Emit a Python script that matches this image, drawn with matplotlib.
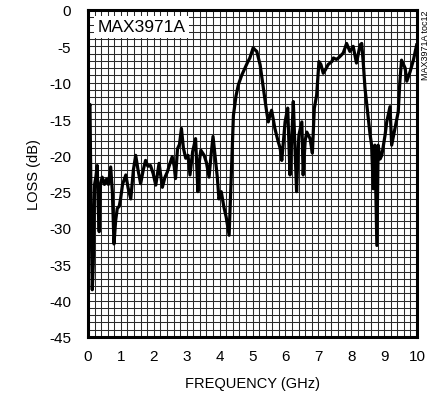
import matplotlib
matplotlib.use("Agg")
import matplotlib.pyplot as plt
import numpy as np

freq_ghz = [0.02, 0.06, 0.10, 0.13, 0.16, 0.20, 0.24, 0.28, 0.31, 0.34, 0.38, 0.43, 0.50, 0.56, 0.62,
            0.69, 0.74, 0.79, 0.84, 0.89, 0.95, 0.99, 1.05, 1.15, 1.22, 1.30, 1.38, 1.45, 1.52, 1.60,
            1.68, 1.75, 1.82, 1.90, 1.98, 2.06, 2.16, 2.26, 2.34, 2.41, 2.50, 2.56, 2.62, 2.66, 2.72,
            2.78, 2.84, 2.90, 2.97, 3.04, 3.10, 3.18, 3.27, 3.34, 3.38, 3.43, 3.53, 3.60, 3.68, 3.74,
            3.80, 3.88, 3.93, 3.98, 4.05, 4.13, 4.20, 4.29, 4.33, 4.37, 4.42, 4.50, 4.57, 4.67, 4.77,
            4.85, 4.92, 5.02, 5.08, 5.13, 5.23, 5.33, 5.43, 5.48, 5.53, 5.58, 5.63, 5.68, 5.78, 5.84,
            5.89, 5.94, 5.99, 6.07, 6.14, 6.19, 6.24, 6.30, 6.34, 6.38, 6.41, 6.50, 6.54, 6.60, 6.65,
            6.75, 6.82, 6.88, 6.95, 7.02, 7.08, 7.15, 7.22, 7.30, 7.41, 7.46, 7.55, 7.61, 7.68, 7.76,
            7.86, 7.96, 8.06, 8.16, 8.27, 8.32, 8.37, 8.42, 8.52, 8.57, 8.62, 8.67, 8.72, 8.78, 8.82,
            8.88, 8.93, 9.03, 9.08, 9.18, 9.23, 9.33, 9.43, 9.48, 9.53, 9.64, 9.69, 9.79, 9.89, 9.99]
loss_db = [-13.5, -13.0, -30.0, -38.5, -35.0, -24.0, -23.0, -21.4, -27.0, -30.5, -24.0, -23.0, -24.0, -23.3, -24.0,
           -21.6, -25.0, -32.2, -29.0, -27.3, -27.0, -26.0, -24.0, -22.7, -24.5, -26.0, -22.0, -20.0, -22.0, -23.9,
           -22.0, -20.7, -21.5, -21.4, -22.5, -24.1, -21.1, -24.4, -23.0, -22.3, -21.0, -20.2, -21.5, -23.2, -19.1,
           -18.5, -16.3, -19.0, -20.4, -20.0, -22.7, -19.5, -17.7, -25.0, -21.0, -19.3, -20.0, -21.0, -23.0, -20.0,
           -17.4, -20.9, -23.0, -26.0, -25.0, -27.1, -28.5, -31.0, -26.0, -21.0, -14.5, -11.8, -10.3, -9.0, -8.0,
           -7.2, -6.6, -5.2, -5.5, -5.7, -7.5, -10.8, -14.0, -15.4, -14.5, -13.8, -15.0, -16.3, -18.1, -19.0,
           -20.7, -18.0, -15.4, -13.5, -22.7, -18.0, -12.6, -20.0, -25.0, -20.0, -17.2, -15.4, -22.7, -18.0, -16.8,
           -17.7, -19.7, -13.5, -11.7, -7.1, -7.5, -8.7, -8.2, -7.5, -7.1, -6.6, -6.8, -6.6, -6.3, -5.9,
           -4.6, -5.7, -5.0, -7.3, -4.8, -4.6, -7.5, -10.8, -14.9, -17.0, -18.6, -24.6, -18.6, -32.4, -18.6,
           -20.5, -20.0, -17.2, -15.4, -13.3, -18.6, -16.3, -14.0, -9.8, -6.9, -8.0, -9.8, -8.5, -6.9, -4.8]

x_ticks = [0, 1, 2, 3, 4, 5, 6, 7, 8, 9, 10]
y_ticks = [0, -5, -10, -15, -20, -25, -30, -35, -40, -45]

plt.rcParams['font.family'] = ['Liberation Sans', 'DejaVu Sans']

fig = plt.figure(figsize=(4.34, 4.02), dpi=100)
ax = fig.add_axes([88/434, 64/402, 329/434, 327/402])

# grid
for gx in np.arange(0, 10.0001, 0.2):
    ax.axvline(gx, color='#2a2a2a', lw=0.75, zorder=1)
for gy in np.arange(-45, 0.0001, 1):
    ax.axhline(gy, color='#2a2a2a', lw=0.75, zorder=1)

ax.plot(freq_ghz, loss_db, color='black', lw=2.3, zorder=3, solid_joinstyle='round')

ax.set_xlim(0, 10)
ax.set_ylim(-45, 0)
ax.set_xticks(x_ticks)
ax.set_yticks(y_ticks)
ax.set_xticklabels([str(v) for v in x_ticks])
ax.set_yticklabels([str(v) for v in y_ticks])
ax.tick_params(axis='x', length=0, labelsize=11, pad=9)
ax.tick_params(axis='y', length=0, labelsize=11, pad=12)
for s in ax.spines.values():
    s.set_linewidth(2.2)
    s.set_zorder(5)

ax.set_xlabel('FREQUENCY (GHz)', fontsize=10.5, labelpad=9)
ax.set_ylabel('LOSS (dB)', fontsize=10.5, labelpad=6)

ax.text(0.3, -2.3, 'MAX3971A', fontsize=12.5, ha='left', va='center', zorder=4,
        bbox=dict(facecolor='white', edgecolor='none', pad=2.5))

fig.text(426/434, 1 - 10/402, 'MAX3971A toc12', rotation=90, fontsize=6.5,
         ha='center', va='top')

fig.savefig('out.png', dpi=100)
